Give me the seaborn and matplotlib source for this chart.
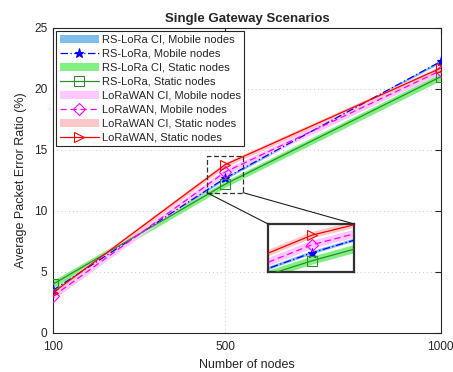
import numpy as np
import pandas as pd
import matplotlib
matplotlib.use("Agg")
import matplotlib.pyplot as plt
import seaborn as sns
from matplotlib.patches import Rectangle, ConnectionPatch

# Data
nodes = [100, 500, 1000]

rs_mobile = [3.5, 12.7, 22.25]
rs_mobile_lo = [3.4, 12.6, 22.15]
rs_mobile_hi = [3.6, 12.8, 22.35]

rs_static = [4.0, 12.2, 21.0]
rs_static_lo = [3.7, 11.95, 20.7]
rs_static_hi = [4.3, 12.45, 21.3]

lw_mobile = [3.0, 13.2, 21.5]
lw_mobile_lo = [2.75, 12.95, 21.25]
lw_mobile_hi = [3.25, 13.45, 21.75]

lw_static = [3.3, 13.8, 21.7]
lw_static_lo = [3.1, 13.6, 21.5]
lw_static_hi = [3.5, 14.0, 21.9]

series = [
    ("RS-LoRa", "Mobile nodes", rs_mobile, rs_mobile_lo, rs_mobile_hi,
     "#0000ff", "#80bdea", (0, (6, 2, 1, 2)), "*", "#0000ff"),
    ("RS-LoRa", "Static nodes", rs_static, rs_static_lo, rs_static_hi,
     "#2e8b2e", "#80f080", "-", "s", "none"),
    ("LoRaWAN", "Mobile nodes", lw_mobile, lw_mobile_lo, lw_mobile_hi,
     "#ff00ff", "#ffc8ff", (0, (5, 3)), "D", "none"),
    ("LoRaWAN", "Static nodes", lw_static, lw_static_lo, lw_static_hi,
     "#ff0000", "#ffc8c8", "-", ">", "none"),
]

# zoom region
zx = [457, 541]
zy = [11.5, 14.5]

sns.set_theme(style="white")
plt.rcParams['font.family'] = ['Liberation Sans', 'DejaVu Sans']

fig = plt.figure(figsize=(4.53, 3.72), dpi=100)
ax = fig.add_axes([0.117, 0.105, 0.856, 0.82])
axins = fig.add_axes([0.5916, 0.269, 0.19, 0.129])


def draw(a, ms):
    handles = []
    for name, kind, y, lo, hi, lc, fc, ls, mk, mfc in series:
        band = a.fill_between(nodes, lo, hi, color=fc, linewidth=0,
                              label=f"{name} CI, {kind}", zorder=1)
        df = pd.DataFrame({"nodes": nodes, "per": y})
        sns.lineplot(data=df, x="nodes", y="per", ax=a, color=lc,
                     linestyle=ls, linewidth=0.9, marker=mk, markersize=ms,
                     markerfacecolor=mfc, markeredgecolor=lc,
                     markeredgewidth=0.8, zorder=3, legend=False)
        line = a.get_lines()[-1]
        line.set_label(f"{name}, {kind}")
        handles += [band, line]
    return handles


handles = draw(ax, 6.5)
draw(axins, 6.5)

ax.set_xlim(100, 1000)
ax.set_ylim(0, 25)
ax.set_xticks([100, 500, 1000])
ax.set_yticks([0, 5, 10, 15, 20, 25])
ax.grid(True, linestyle=(0, (1, 3)), color="#c8c8c8", linewidth=0.7)
ax.tick_params(direction="in", length=4, width=0.8, top=True, right=True,
               labelsize=8.6, colors="#262626")
ax.tick_params(axis="x", pad=6)
ax.tick_params(axis="y", pad=4)
for s in ax.spines.values():
    s.set_linewidth(0.8)
    s.set_color("#262626")
ax.set_xlabel("Number of nodes", fontsize=9, labelpad=4)
ax.set_ylabel("Average Packet Error Ratio (%)", fontsize=9, labelpad=5)
ax.set_title("Single Gateway Scenarios", fontsize=9.5, fontweight="bold", pad=4)

leg = ax.legend(handles=handles, loc="upper left", fontsize=8,
                frameon=True, fancybox=False, edgecolor="#262626",
                framealpha=1, handlelength=3.5, handletextpad=0.3,
                labelspacing=0.36, borderpad=0.3, borderaxespad=0.3)
leg.get_frame().set_linewidth(0.8)

axins.set_xlim(*zx)
axins.set_ylim(*zy)
axins.set_xticks([])
axins.set_yticks([])
for s in axins.spines.values():
    s.set_linewidth(1.6)
    s.set_color("#303030")
axins.set_xlabel("")
axins.set_ylabel("")

rect = Rectangle((zx[0], zy[0]), zx[1] - zx[0], zy[1] - zy[0], fill=False,
                 edgecolor="#303030", linestyle=(0, (4, 2)), linewidth=0.9,
                 zorder=5)
ax.add_patch(rect)
for xd, xa in [(zx[0], 0), (zx[1], 1)]:
    con = ConnectionPatch(xyA=(xd, zy[0]), coordsA=ax.transData,
                          xyB=(xa, 1), coordsB=axins.transAxes,
                          color="#202020", linewidth=0.8)
    fig.add_artist(con)

plt.savefig("out.png", dpi=100)
